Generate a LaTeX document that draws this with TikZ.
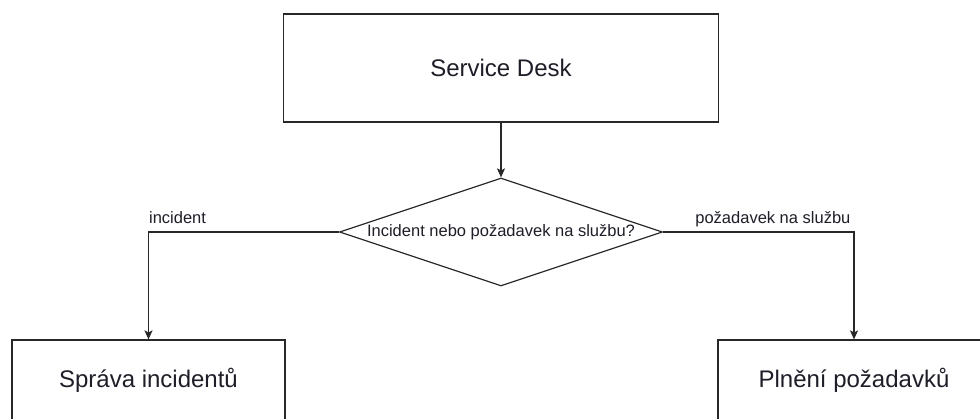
\documentclass[tikz,border=0pt]{standalone}
\usepackage{fontspec}
\setmainfont{Liberation Sans}
\usetikzlibrary{shapes.geometric,arrows.meta}
\definecolor{ln}{RGB}{40,40,40}
\definecolor{tx}{RGB}{30,30,40}
\tikzset{
  procbox/.style={draw=ln, line width=1.2pt, rectangle, inner sep=0pt, text=tx, font=\fontsize{24}{28}\selectfont},
  decision/.style={draw=ln, line width=1.2pt, diamond, aspect=3, inner sep=0pt, minimum width=323pt, minimum height=108pt, text=tx, font=\fontsize{16.5}{19}\selectfont},
  conn/.style={draw=ln, line width=1.2pt, -{Stealth[length=9pt,width=8pt,inset=2pt]}},
  lbl/.style={text=tx, inner sep=0pt, font=\fontsize{16.5}{19}\selectfont}
}
\begin{document}
\begin{tikzpicture}[x=1pt,y=-1pt]
\clip (0,0) rectangle (980,418);
\fill[white] (0,0) rectangle (980,418);
\node[procbox, minimum width=435pt, minimum height=108pt] (sd) at (501,68) {Service Desk};
\node[decision] (dec) at (501,232) {Incident nebo požadavek na službu?};
\node[procbox, minimum width=273pt, minimum height=80pt] (inc) at (148.5,380) {Správa incidentů};
\node[procbox, minimum width=272pt, minimum height=80pt] (req) at (854,380) {Plnění požadavků};
\draw[conn] (sd.south) -- (dec.north);
\draw[conn] (dec.west) -| node[lbl, pos=0.5, anchor=base west, yshift=9pt] (li) {incident} (inc.north);
\draw[conn] (dec.east) -| node[lbl, pos=0.5, anchor=base east, xshift=-3pt, yshift=9pt] (lr) {požadavek na službu} (req.north);
\end{tikzpicture}
\end{document}
